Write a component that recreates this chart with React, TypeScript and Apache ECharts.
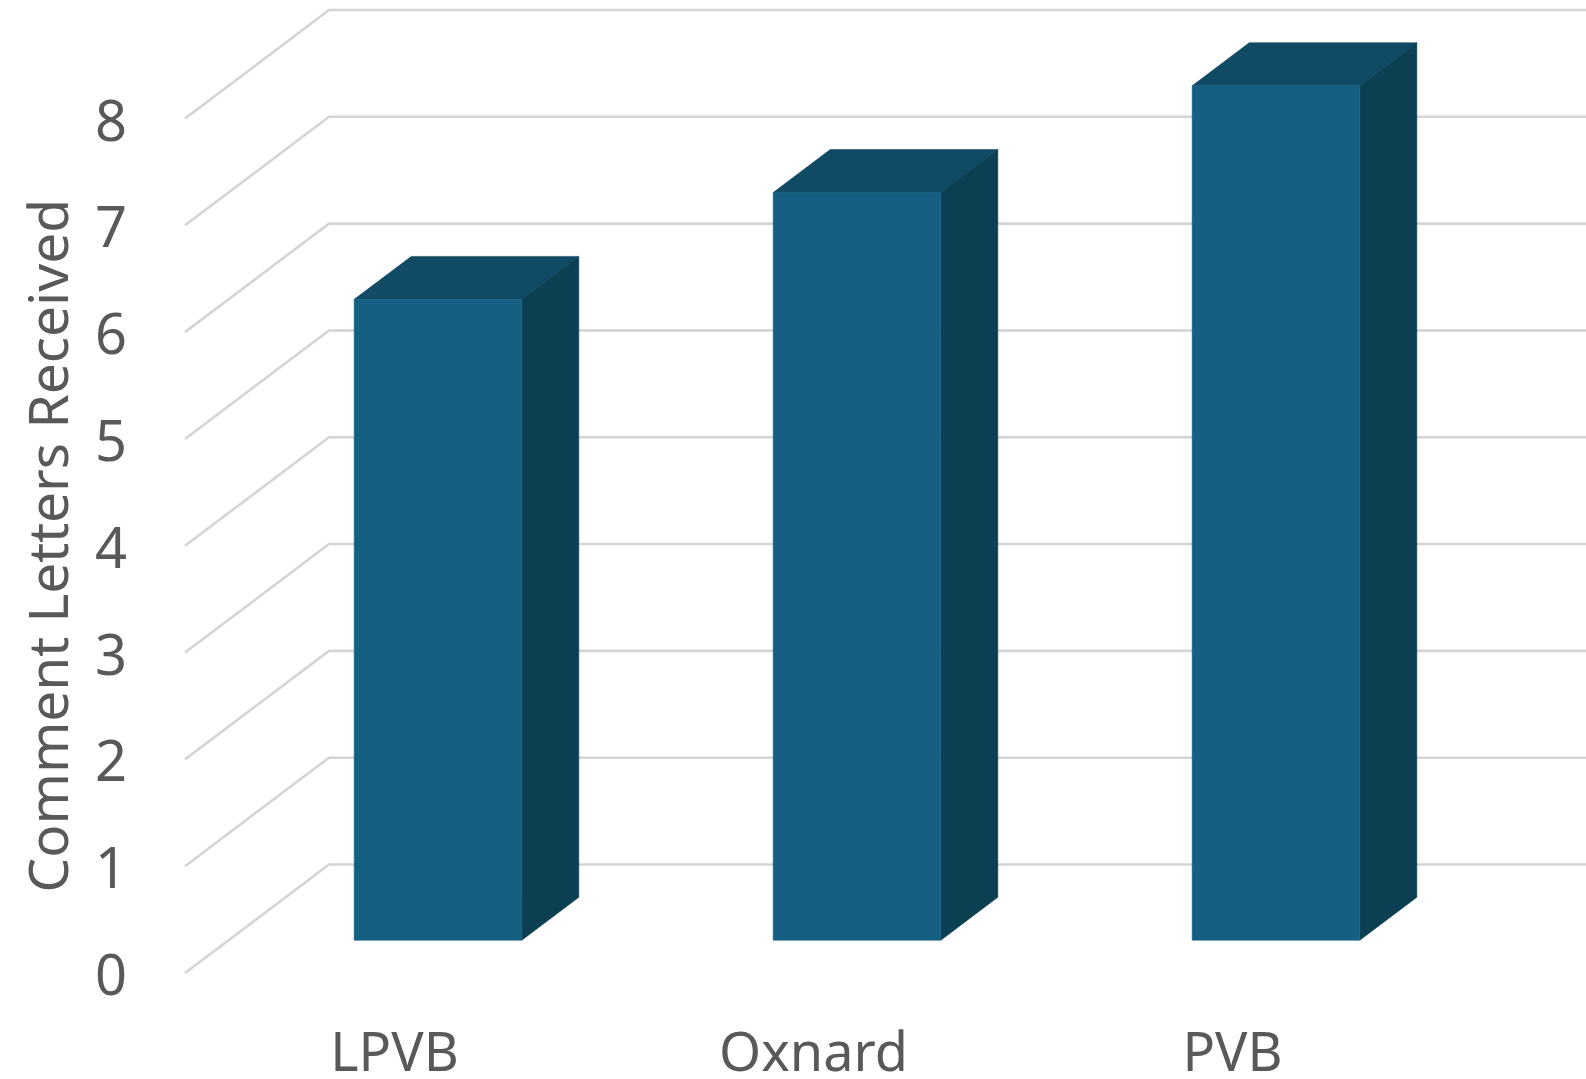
import React, { useEffect, useRef } from "react";
import * as echarts from "echarts";

const categories = ["LPVB", "Oxnard", "PVB"];
const letters = [6, 7, 8];
const gridValues = [0, 1, 2, 3, 4, 5, 6, 7, 8];
const axisTitle = "Comment Letters Received";

const DEPTH_X = 144;
const DEPTH_Y = 108.5;
const BAR_FRACTION = 0.4;
const BAR_DEPTH = 0.396;
const BAR_OFFSET = 0.302;
const FONT = '"Noto Sans", sans-serif';
const TEXT = "#595959";

function renderWall(params: any, api: any) {
  const value = api.value(1);
  const sys = params.coordSys;
  const y = api.coord([0, value])[1];
  return {
    type: "polyline",
    silent: true,
    shape: {
      points: [
        [sys.x, y],
        [sys.x + DEPTH_X, y - DEPTH_Y],
        [sys.x + sys.width + DEPTH_X + 2, y - DEPTH_Y],
      ],
    },
    style: { fill: "none", stroke: "#d4d4d4", lineWidth: 2.6 },
  };
}

function renderBar(params: any, api: any) {
  const [cx, top] = api.coord([api.value(0), api.value(1)]);
  const bottom = api.coord([api.value(0), 0])[1];
  const band = api.size([1, 0])[0];
  const w = band * BAR_FRACTION;
  const ox = DEPTH_X * BAR_OFFSET;
  const oy = DEPTH_Y * BAR_OFFSET;
  const dx = DEPTH_X * BAR_DEPTH;
  const dy = DEPTH_Y * BAR_DEPTH;
  const l = cx - w / 2 + ox;
  const r = l + w;
  const t = top - oy;
  const b = bottom - oy;
  return {
    type: "group",
    silent: true,
    children: [
      {
        type: "polygon",
        shape: { points: [[l, t], [l + dx, t - dy], [r + dx, t - dy], [r, t]] },
        style: { fill: "#114a64", stroke: "#114a64", lineWidth: 0.6 },
      },
      {
        type: "polygon",
        shape: { points: [[r, t], [r + dx, t - dy], [r + dx, b - dy], [r, b]] },
        style: { fill: "#0d3f53", stroke: "#0d3f53", lineWidth: 0.6 },
      },
      {
        type: "polygon",
        shape: { points: [[l, t], [r, t], [r, b], [l, b]] },
        style: { fill: "#156082", stroke: "#156082", lineWidth: 0.6 },
      },
    ],
  };
}

export default function App() {
  const ref = useRef<HTMLDivElement>(null);
  useEffect(() => {
    const chart = echarts.init(ref.current!, undefined, { renderer: "svg" });
    chart.setOption({
      animation: false,
      backgroundColor: "#ffffff",
      grid: { left: 185, right: 144, top: 118.5, bottom: 106, outerBoundsMode: "none" },
      xAxis: {
        type: "category",
        data: categories,
        axisLine: { show: false },
        axisTick: { show: false },
        splitLine: { show: false },
        axisLabel: { color: TEXT, fontFamily: FONT, fontSize: 54, margin: 50, interval: 0 },
      },
      yAxis: {
        type: "value",
        min: 0,
        max: 8,
        interval: 1,
        axisLine: { show: false },
        axisTick: { show: false },
        splitLine: { show: false },
        axisLabel: { color: TEXT, fontFamily: FONT, fontSize: 56, margin: 58 },
        name: axisTitle,
        nameLocation: "middle",
        nameRotate: 90,
        nameGap: 111,
        nameTextStyle: { color: TEXT, fontFamily: FONT, fontSize: 55 },
      },
      series: [
        {
          type: "custom",
          renderItem: renderWall,
          data: gridValues.map((v) => [0, v]),
          encode: { x: 0, y: 1 },
          silent: true,
          z: 1,
        },
        {
          type: "custom",
          renderItem: renderBar,
          data: letters.map((v, i) => [i, v]),
          encode: { x: 0, y: 1 },
          silent: true,
          z: 2,
        },
      ],
    });
    return () => chart.dispose();
  }, []);
  return (
    <div
      ref={ref}
      style={{ position: "absolute", left: 0, top: 0, width: 1586, height: 1079 }}
    />
  );
}
